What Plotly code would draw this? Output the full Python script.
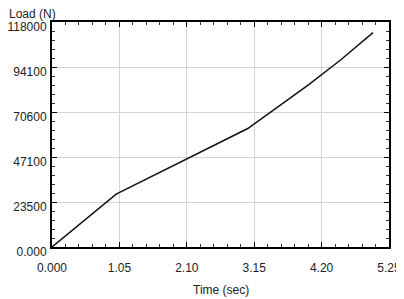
import plotly.graph_objects as go

time_s = [0.0, 1.0, 3.05, 3.5, 4.0, 4.5, 5.0]
load_n = [0, 27700, 62000, 73000, 85000, 98000, 112200]

x_tickvals = [0.0, 1.05, 2.10, 3.15, 4.20, 5.25]
x_ticktext = ["0.000", "1.05", "2.10", "3.15", "4.20", "5.25"]
y_tickvals = [0, 23550, 47100, 70650, 94200, 117750]
y_ticktext = ["0.000", "23500", "47100", "70600", "94100", "118000"]

fig = go.Figure()
fig.add_trace(go.Scatter(x=time_s, y=load_n, mode="lines",
                         line=dict(color="#111111", width=1.5), showlegend=False))

font = dict(family="Liberation Sans, Arial, sans-serif", size=12, color="#222222")

fig.update_xaxes(
    range=[0, 5.25], tickmode="array", tickvals=x_tickvals, ticktext=x_ticktext,
    showgrid=True, gridcolor="#d4d4d4", gridwidth=1,
    showline=True, linecolor="black", linewidth=2, mirror="ticks",
    ticks="inside", ticklen=5, tickcolor="black", tickwidth=1,
    minor=dict(tickmode="linear", tick0=0, dtick=0.21, ticks="inside", ticklen=3,
               tickcolor="#333333", showgrid=False),
    tickfont=font, ticklabelstandoff=9, zeroline=False, automargin=False,
)
fig.update_yaxes(
    range=[0, 117750], tickmode="array", tickvals=y_tickvals, ticktext=y_ticktext,
    showgrid=True, gridcolor="#d4d4d4", gridwidth=1,
    showline=True, linecolor="black", linewidth=2, mirror="ticks",
    ticks="inside", ticklen=5, tickcolor="black", tickwidth=1,
    minor=dict(tickmode="linear", tick0=0, dtick=4710, ticks="inside", ticklen=3,
               tickcolor="#333333", showgrid=False),
    tickfont=font, ticklabelstandoff=1, ticklabelshift=5, zeroline=False, automargin=False,
)
fig.add_annotation(text="Load (N)", xref="paper", yref="paper", x=-44 / 337, y=1.0,
                   xanchor="left", yanchor="middle", yshift=8, showarrow=False, font=font,
                   borderpad=0)
fig.add_annotation(text="Time (sec)", xref="paper", yref="paper", x=0.5, y=0.0,
                   xanchor="center", yanchor="middle", yshift=-43, showarrow=False, font=font)

# page body has an 8px margin, so the figure is sized to fit the 404x299 window
fig.update_layout(
    width=396, height=291, margin=dict(l=44, r=15, t=14, b=52),
    plot_bgcolor="white", paper_bgcolor="white",
)
fig.write_html("out.html")
